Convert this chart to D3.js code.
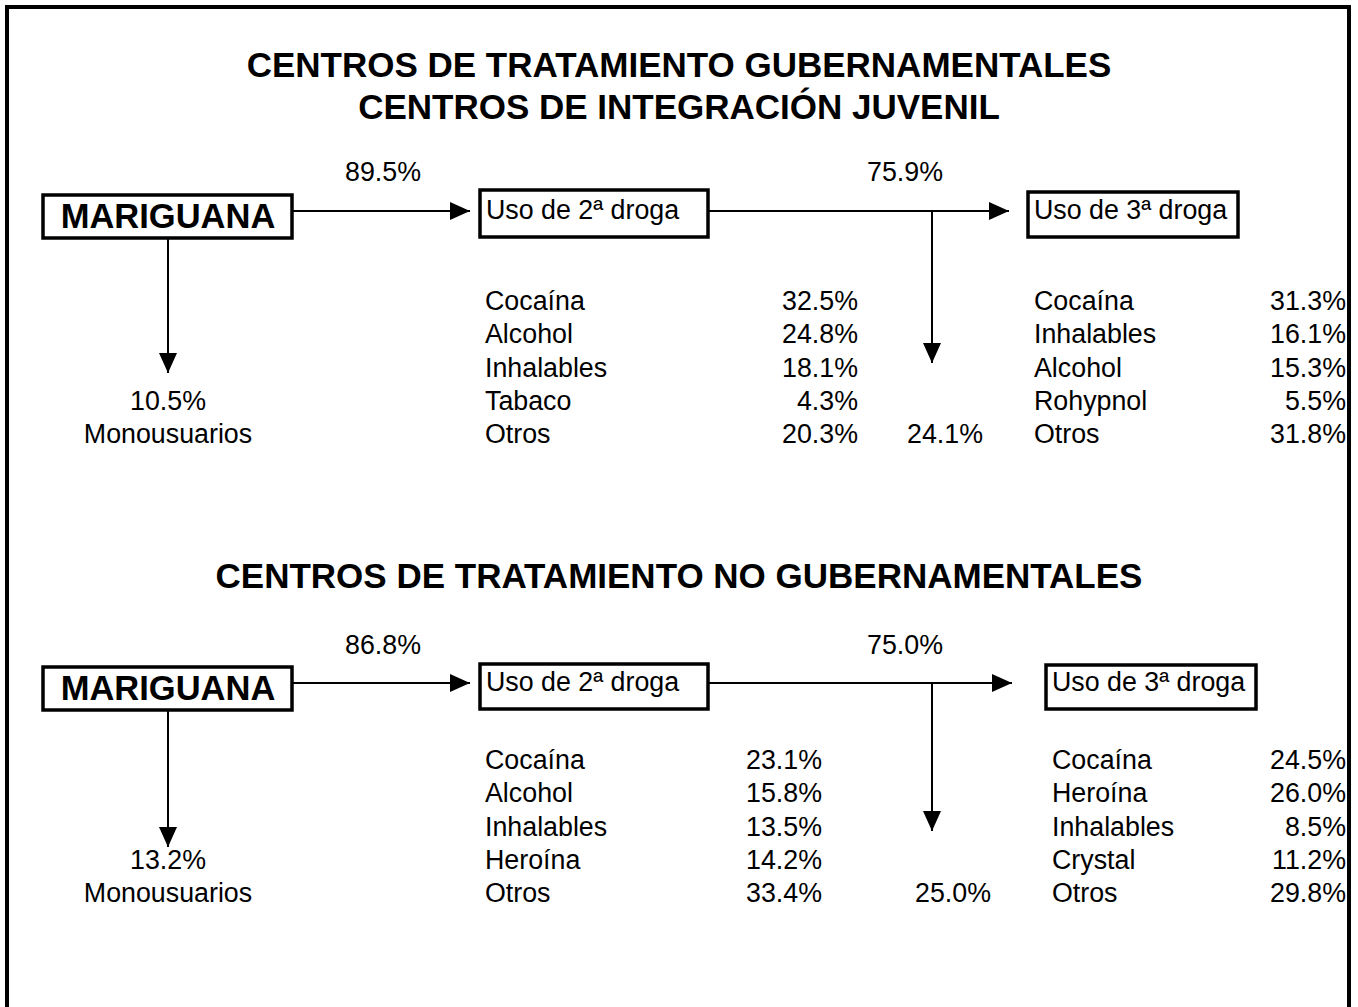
<!DOCTYPE html>
<html>
<head>
<meta charset="utf-8">
<script src="https://cdn.jsdelivr.net/npm/d3@7"></script>
<style>
  body { margin: 0; background: #fff; }
  svg text { font-family: "Liberation Sans", Arial, sans-serif; fill: #000; }
  .title { font-size: 35px; font-weight: bold; text-anchor: middle; }
  .big { font-size: 34.5px; font-weight: bold; text-anchor: middle; }
  .lbl { font-size: 26.8px; }
</style>
</head>
<body>
<div id="wrapper"></div>
<script>
// data
const titlesGob = ["CENTROS DE TRATAMIENTO GUBERNAMENTALES", "CENTROS DE INTEGRACIÓN JUVENIL"]
const titlesNoGob = ["CENTROS DE TRATAMIENTO NO GUBERNAMENTALES"]
const startDrug = "MARIGUANA"
const secondLabel = "Uso de 2ª droga"
const thirdLabel = "Uso de 3ª droga"
const monoLabel = "Monousuarios"

const secondGobDrugs = ["Cocaína", "Alcohol", "Inhalables", "Tabaco", "Otros"]
const secondGobValues = [32.5, 24.8, 18.1, 4.3, 20.3]
const thirdGobDrugs = ["Cocaína", "Inhalables", "Alcohol", "Rohypnol", "Otros"]
const thirdGobValues = [31.3, 16.1, 15.3, 5.5, 31.8]
const flowGob = [89.5, 10.5, 75.9, 24.1] // a 2ª, monousuarios, a 3ª, sin 3ª

const secondNoGobDrugs = ["Cocaína", "Alcohol", "Inhalables", "Heroína", "Otros"]
const secondNoGobValues = [23.1, 15.8, 13.5, 14.2, 33.4]
const thirdNoGobDrugs = ["Cocaína", "Heroína", "Inhalables", "Crystal", "Otros"]
const thirdNoGobValues = [24.5, 26.0, 8.5, 11.2, 29.8]
const flowNoGob = [86.8, 13.2, 75.0, 25.0]

const pct = d => d3.format(".1f")(d) + "%"

// canvas
const width = 1358, height = 1007

const svg = d3.select("#wrapper").append("svg")
    .attr("width", width)
    .attr("height", height)

svg.append("rect")
    .attr("x", 7).attr("y", 7)
    .attr("width", 1342).attr("height", 1010)
    .attr("fill", "none").attr("stroke", "#000").attr("stroke-width", 4)

svg.append("defs").append("marker")
    .attr("id", "head")
    .attr("viewBox", "0 0 20 20")
    .attr("refX", 20).attr("refY", 10)
    .attr("markerWidth", 20).attr("markerHeight", 20)
    .attr("markerUnits", "userSpaceOnUse")
    .attr("orient", "auto")
  .append("path")
    .attr("d", "M0,1 L20,10 L0,19 Z")
    .attr("fill", "#000")

function drawPanel(titles, p) {
  const g = svg.append("g")

  // titles
  titles.forEach((t, i) => {
    g.append("text").attr("class", "title")
      .attr("x", 679).attr("y", p.titleY + i * 42)
      .text(t)
  })

  const y = p.axisY
  const line = (x1, y1, x2, y2, arrow) => g.append("line")
      .attr("x1", x1).attr("y1", y1).attr("x2", x2).attr("y2", y2)
      .attr("stroke", "#000").attr("stroke-width", 2)
      .attr("marker-end", arrow ? "url(#head)" : null)

  // MARIGUANA box
  g.append("rect")
      .attr("x", 43).attr("y", y - 16).attr("width", 249).attr("height", 43)
      .attr("fill", "#fff").attr("stroke", "#000").attr("stroke-width", 3.5)
  g.append("text").attr("class", "big")
      .attr("x", 168).attr("y", y + 17).text(startDrug)

  // arrows
  line(292, y, 470, y, true)
  line(p.box2[0] + p.box2[2] - 8, y, p.tip3, y, true)
  line(932, y, 932, p.downTip, true)
  line(168, y + 27, 168, p.monoTip, true)

  // flow percentages
  g.append("text").attr("class", "lbl").attr("x", 383).attr("y", p.pctY)
      .attr("text-anchor", "middle").text(pct(p.flow[0]))
  g.append("text").attr("class", "lbl").attr("x", 905).attr("y", p.pctY)
      .attr("text-anchor", "middle").text(pct(p.flow[2]))

  // second and third drug boxes
  ;[[p.box2, secondLabel], [p.box3, thirdLabel]].forEach(([b, label]) => {
    g.append("rect")
        .attr("x", b[0]).attr("y", b[1]).attr("width", b[2]).attr("height", b[3])
        .attr("fill", "#fff").attr("stroke", "#000").attr("stroke-width", 3.5)
    g.append("text").attr("class", "lbl")
        .attr("x", b[0] + 6).attr("y", y + 8).text(label)
  })

  // rows
  const rowY = d3.scaleLinear().domain([0, 4]).range(p.rowRange)

  g.selectAll(null).data(p.secondDrugs).join("text").attr("class", "lbl")
      .attr("x", 485).attr("y", (d, i) => rowY(i)).text(d => d)
  g.selectAll(null).data(p.secondValues).join("text").attr("class", "lbl")
      .attr("x", p.secondRight).attr("y", (d, i) => rowY(i))
      .attr("text-anchor", "end").text(pct)

  g.selectAll(null).data(p.thirdDrugs).join("text").attr("class", "lbl")
      .attr("x", p.box3[0] + 6).attr("y", (d, i) => rowY(i)).text(d => d)
  g.selectAll(null).data(p.thirdValues).join("text").attr("class", "lbl")
      .attr("x", 1346).attr("y", (d, i) => rowY(i))
      .attr("text-anchor", "end").text(pct)

  // monousuarios and no third drug
  g.append("text").attr("class", "lbl").attr("x", 168).attr("y", rowY(3))
      .attr("text-anchor", "middle").text(pct(p.flow[1]))
  g.append("text").attr("class", "lbl").attr("x", 168).attr("y", rowY(4))
      .attr("text-anchor", "middle").text(monoLabel)
  g.append("text").attr("class", "lbl").attr("x", p.stopRight).attr("y", rowY(4))
      .attr("text-anchor", "end").text(pct(p.flow[3]))
}

drawPanel(titlesGob, {
  titleY: 77, pctY: 181, axisY: 211,
  box2: [480, 190, 228, 47], box3: [1028, 192, 210, 45],
  tip3: 1009, downTip: 363, monoTip: 373,
  rowRange: [310, 443], secondRight: 858, stopRight: 983,
  flow: flowGob,
  secondDrugs: secondGobDrugs, secondValues: secondGobValues,
  thirdDrugs: thirdGobDrugs, thirdValues: thirdGobValues
})

drawPanel(titlesNoGob, {
  titleY: 588, pctY: 654, axisY: 683,
  box2: [480, 664, 228, 45], box3: [1046, 665, 210, 44],
  tip3: 1012, downTip: 831, monoTip: 847,
  rowRange: [769, 902], secondRight: 822, stopRight: 991,
  flow: flowNoGob,
  secondDrugs: secondNoGobDrugs, secondValues: secondNoGobValues,
  thirdDrugs: thirdNoGobDrugs, thirdValues: thirdNoGobValues
})
</script>
</body>
</html>
